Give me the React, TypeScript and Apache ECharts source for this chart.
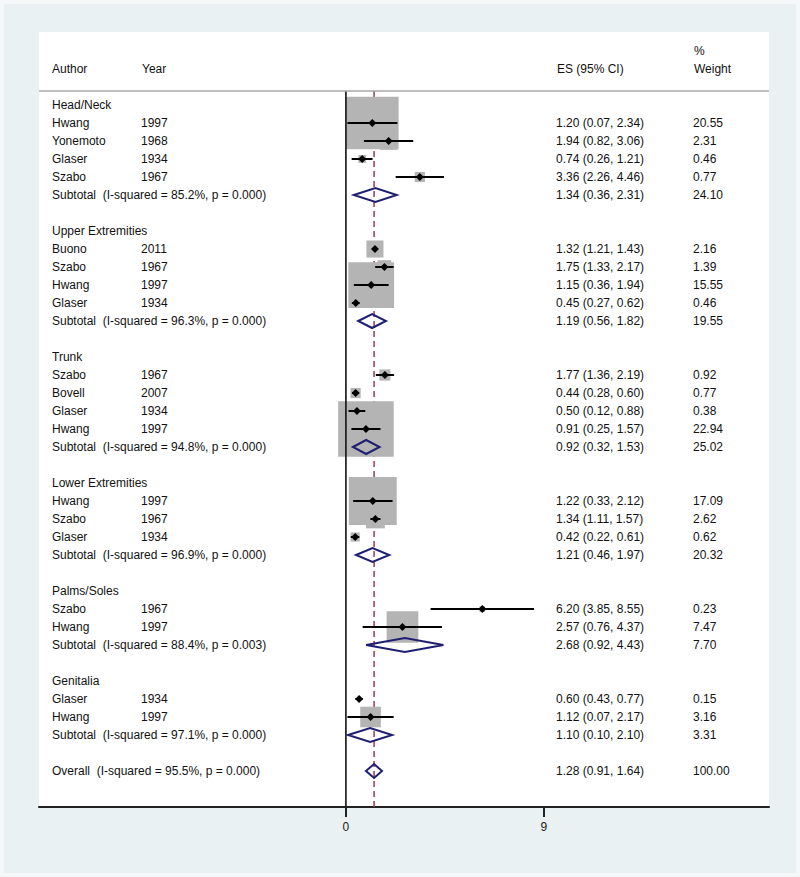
import React, { useEffect, useRef } from "react";
import * as echarts from "echarts";

// ---------- data ----------
const groupNames = ["Head/Neck", "Upper Extremities", "Trunk", "Lower Extremities", "Palms/Soles", "Genitalia"];
const studyGroup = [0, 0, 0, 0, 1, 1, 1, 1, 2, 2, 2, 2, 3, 3, 3, 4, 4, 5, 5];
const studyAuthor = ["Hwang", "Yonemoto", "Glaser", "Szabo", "Buono", "Szabo", "Hwang", "Glaser", "Szabo", "Bovell", "Glaser", "Hwang", "Hwang", "Szabo", "Glaser", "Szabo", "Hwang", "Glaser", "Hwang"];
const studyYear = ["1997", "1968", "1934", "1967", "2011", "1967", "1997", "1934", "1967", "2007", "1934", "1997", "1997", "1967", "1934", "1967", "1997", "1934", "1997"];
const studyES = [1.20, 1.94, 0.74, 3.36, 1.32, 1.75, 1.15, 0.45, 1.77, 0.44, 0.50, 0.91, 1.22, 1.34, 0.42, 6.20, 2.57, 0.60, 1.12];
const studyLo = [0.07, 0.82, 0.26, 2.26, 1.21, 1.33, 0.36, 0.27, 1.36, 0.28, 0.12, 0.25, 0.33, 1.11, 0.22, 3.85, 0.76, 0.43, 0.07];
const studyHi = [2.34, 3.06, 1.21, 4.46, 1.43, 2.17, 1.94, 0.62, 2.19, 0.60, 0.88, 1.57, 2.12, 1.57, 0.61, 8.55, 4.37, 0.77, 2.17];
const studyWeight = [20.55, 2.31, 0.46, 0.77, 2.16, 1.39, 15.55, 0.46, 0.92, 0.77, 0.38, 22.94, 17.09, 2.62, 0.62, 0.23, 7.47, 0.15, 3.16];

const subES = [1.34, 1.19, 0.92, 1.21, 2.68, 1.10];
const subLo = [0.36, 0.56, 0.32, 0.46, 0.92, 0.10];
const subHi = [2.31, 1.82, 1.53, 1.97, 4.43, 2.10];
const subWeight = [24.10, 19.55, 25.02, 20.32, 7.70, 3.31];
const subI2 = ["85.2", "96.3", "94.8", "96.9", "88.4", "97.1"];
const subP = ["0.000", "0.000", "0.000", "0.000", "0.003", "0.000"];

const overallES = 1.28;
const overallLo = 0.91;
const overallHi = 1.64;
const overallWeight = 100.0;
const overallI2 = "95.5";
const overallP = "0.000";

const xTicks = [0, 9];

// ---------- styling constants ----------
const FONT = "'Liberation Sans', Arial, Helvetica, sans-serif";
const FS = 12;
const TXT = "#111";
const COL_AUTHOR = 52;
const COL_YEAR = 141;
const COL_ES = 556;
const COL_W = 693;
const BOX_K = 11.6;
const NAVY = "#1f1f72";
const RED = "#a3455a";

type Row = {
  row: number;
  kind: "group" | "study" | "sub" | "overall";
  label: string;
  year?: string;
  es?: number;
  lo?: number;
  hi?: number;
  w?: number;
};

function buildRows(): Row[] {
  const rows: Row[] = [];
  let r = 0;
  groupNames.forEach((g, gi) => {
    rows.push({ row: r++, kind: "group", label: g });
    studyAuthor.forEach((a, i) => {
      if (studyGroup[i] === gi) {
        rows.push({ row: r++, kind: "study", label: a, year: studyYear[i], es: studyES[i], lo: studyLo[i], hi: studyHi[i], w: studyWeight[i] });
      }
    });
    rows.push({
      row: r++, kind: "sub",
      label: `Subtotal  (I-squared = ${subI2[gi]}%, p = ${subP[gi]})`,
      es: subES[gi], lo: subLo[gi], hi: subHi[gi], w: subWeight[gi],
    });
    r++;
  });
  rows.push({
    row: r, kind: "overall",
    label: `Overall  (I-squared = ${overallI2}%, p = ${overallP})`,
    es: overallES, lo: overallLo, hi: overallHi, w: overallWeight,
  });
  return rows;
}

const fmt = (v: number) => v.toFixed(2);

export default function App() {
  const ref = useRef<HTMLDivElement>(null);
  useEffect(() => {
    if (!ref.current) return;
    const chart = echarts.init(ref.current, undefined, { renderer: "svg" });
    const rows = buildRows();
    const studies = rows.filter((r) => r.kind === "study");
    const diamonds = rows.filter((r) => r.kind === "sub" || r.kind === "overall");
    const lastRow = rows[rows.length - 1].row;
    const headerLineRow = -0.78;

    const textStyle = (x: number, y: number, text: string) => ({
      type: "text",
      x, y,
      style: { text, fill: TXT, font: `${FS}px ${FONT}`, textVerticalAlign: "middle", verticalAlign: "middle" },
      silent: true,
    });

    const option: any = {
      animation: false,
      backgroundColor: "#f4f8f9",
      graphic: [
        { type: "rect", z: -10, shape: { x: 4, y: 4, width: 792, height: 869 }, style: { fill: "#e9f1f3" }, silent: true },
      ],
      grid: { left: 39, right: 31, top: 32, bottom: 70, show: true, backgroundColor: "#ffffff", borderWidth: 0 },
      xAxis: {
        type: "value",
        min: -13.95,
        max: 19.23,
        axisLine: { show: true, onZero: false, lineStyle: { color: "#222", width: 2 } },
        axisTick: { show: true, customValues: xTicks, length: 10, lineStyle: { color: "#222", width: 2 } },
        axisLabel: { customValues: xTicks, color: "#222", fontSize: FS, fontFamily: FONT, margin: 14 },
        splitLine: { show: false },
      },
      yAxis: { type: "value", inverse: true, min: -4.056, max: 39.0, show: false },
      series: [
        // red dashed overall line (under boxes)
        {
          type: "custom",
          data: [[overallES, headerLineRow, lastRow + 2]],
          z: 1,
          renderItem: (params: any, api: any) => {
            const p1 = api.coord([api.value(0), api.value(1)]);
            const bottom = params.coordSys.y + params.coordSys.height;
            return {
              type: "line",
              shape: { x1: p1[0], y1: p1[1], x2: p1[0], y2: bottom },
              style: { stroke: RED, lineWidth: 1.6, lineDash: [6, 4] },
            };
          },
        },
        // weight boxes
        {
          type: "custom",
          z: 2,
          data: studies.map((s) => [s.es, s.row, s.w]),
          renderItem: (params: any, api: any) => {
            const c = api.coord([api.value(0), api.value(1)]);
            const side = BOX_K * Math.sqrt(api.value(2));
            return {
              type: "rect",
              shape: { x: c[0] - side / 2, y: c[1] - side / 2, width: side, height: side },
              style: { fill: "#b4b4b4" },
            };
          },
        },
        // null line at 0 and header line
        {
          type: "custom",
          z: 3,
          data: [[0, headerLineRow]],
          renderItem: (params: any, api: any) => {
            const p = api.coord([api.value(0), api.value(1)]);
            const cs = params.coordSys;
            const bottom = cs.y + cs.height;
            return {
              type: "group",
              children: [
                { type: "line", shape: { x1: p[0], y1: p[1], x2: p[0], y2: bottom }, style: { stroke: "#111", lineWidth: 1.6 } },
                { type: "line", shape: { x1: cs.x, y1: p[1], x2: cs.x + cs.width, y2: p[1] }, style: { stroke: "#a8a8a8", lineWidth: 1.5 } },
              ],
            };
          },
        },
        // CI lines and point markers
        {
          type: "custom",
          z: 4,
          data: studies.map((s) => [s.es, s.row, s.lo, s.hi]),
          renderItem: (params: any, api: any) => {
            const c = api.coord([api.value(0), api.value(1)]);
            const l = api.coord([api.value(2), api.value(1)]);
            const h = api.coord([api.value(3), api.value(1)]);
            const m = 4;
            return {
              type: "group",
              children: [
                { type: "line", shape: { x1: l[0], y1: l[1], x2: h[0], y2: h[1] }, style: { stroke: "#000", lineWidth: 2 } },
                {
                  type: "polygon",
                  shape: { points: [[c[0] - m, c[1]], [c[0], c[1] - m], [c[0] + m, c[1]], [c[0], c[1] + m]] },
                  style: { fill: "#000" },
                },
              ],
            };
          },
        },
        // pooled diamonds
        {
          type: "custom",
          z: 5,
          data: diamonds.map((d) => [d.es, d.row, d.lo, d.hi]),
          renderItem: (params: any, api: any) => {
            const c = api.coord([api.value(0), api.value(1)]);
            const l = api.coord([api.value(2), api.value(1)]);
            const h = api.coord([api.value(3), api.value(1)]);
            const dh = 7;
            return {
              type: "polygon",
              shape: { points: [[l[0], c[1]], [c[0], c[1] - dh], [h[0], c[1]], [c[0], c[1] + dh]] },
              style: { fill: "none", stroke: NAVY, lineWidth: 2 },
            };
          },
        },
        // text table
        {
          type: "custom",
          z: 6,
          data: [[0, -2], ...rows.map((r) => [0, r.row])],
          renderItem: (params: any, api: any) => {
            const y = api.coord([0, api.value(1)])[1];
            if (params.dataIndex === 0) {
              const yTop = api.coord([0, -3])[1];
              return {
                type: "group",
                children: [
                  textStyle(COL_AUTHOR, y, "Author"),
                  textStyle(COL_YEAR + 1, y, "Year"),
                  textStyle(COL_ES + 1, y, "ES (95% CI)"),
                  textStyle(COL_W + 1, yTop, "%"),
                  textStyle(COL_W + 1, y, "Weight"),
                ],
              };
            }
            const r = rows[params.dataIndex - 1];
            const kids: any[] = [textStyle(COL_AUTHOR, y, r.label)];
            if (r.kind === "study") kids.push(textStyle(COL_YEAR, y, r.year as string));
            if (r.kind !== "group") {
              kids.push(textStyle(COL_ES, y, `${fmt(r.es!)} (${fmt(r.lo!)}, ${fmt(r.hi!)})`));
              kids.push(textStyle(COL_W, y, fmt(r.w!)));
            }
            return { type: "group", children: kids };
          },
        },
      ],
    };
    chart.setOption(option);
    return () => chart.dispose();
  }, []);
  return <div ref={ref} style={{ position: "absolute", left: 0, top: 0, width: 800, height: 877 }} />;
}
